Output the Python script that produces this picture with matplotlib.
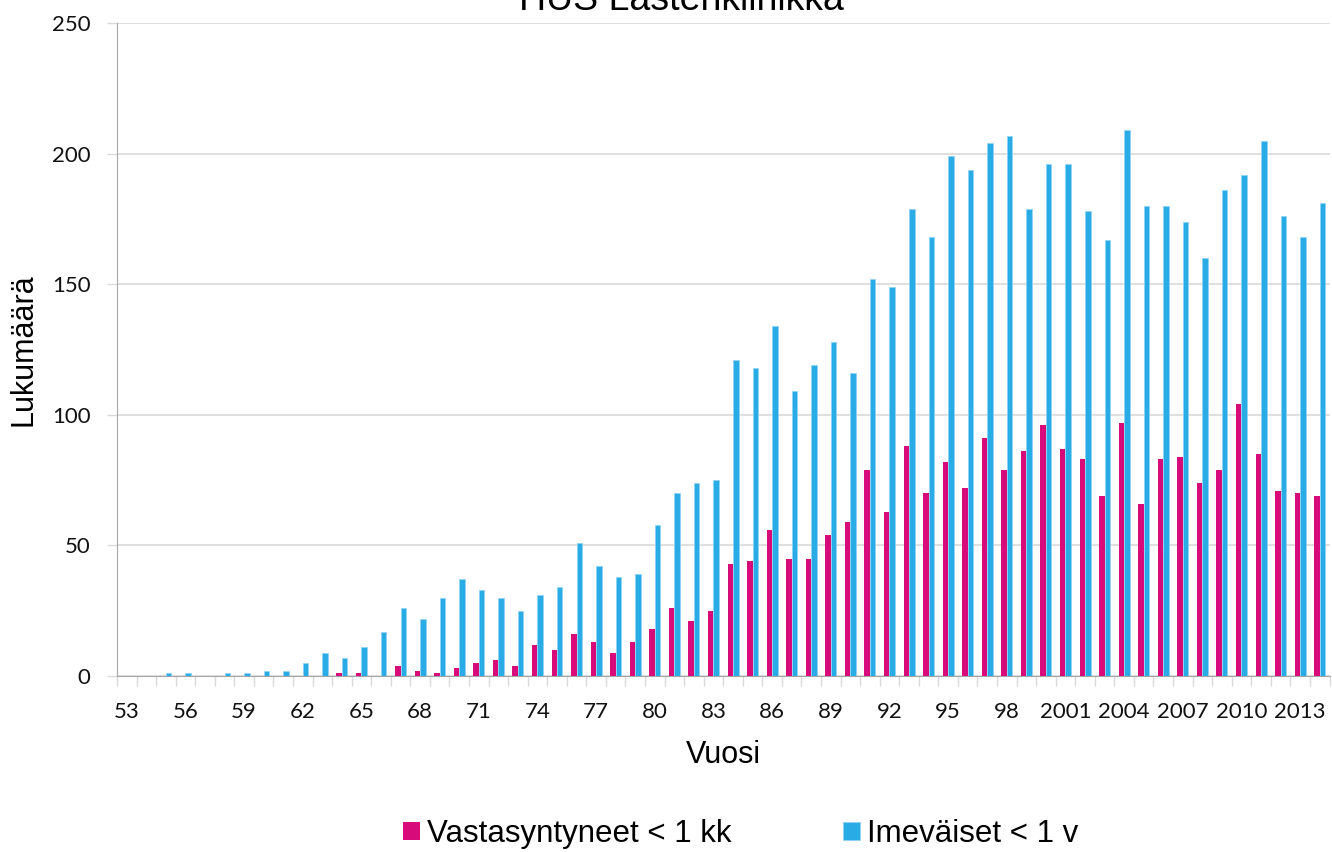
import numpy as np
import matplotlib.pyplot as plt
from matplotlib.ticker import FixedLocator

# Vuodet 1953-2014
years = list(range(1953, 2015))

# Vastasyntyneet < 1 kk
newborn = [0, 0, 0, 0, 0, 0, 0, 0, 0, 0,
           0, 1, 1, 0, 4, 2, 1, 3, 5, 6,
           4, 12, 10, 16, 13, 9, 13, 18, 26, 21,
           25, 43, 44, 56, 45, 45, 54, 59, 79, 63,
           88, 70, 82, 72, 91, 79, 86, 96, 87, 83,
           69, 97, 66, 83, 84, 74, 79, 104, 85, 71,
           70, 69]

# Imeväiset < 1 v
infant = [0, 0, 1, 1, 0, 1, 1, 2, 2, 5,
          9, 7, 11, 17, 26, 22, 30, 37, 33, 30,
          25, 31, 34, 51, 42, 38, 39, 58, 70, 74,
          75, 121, 118, 134, 109, 119, 128, 116, 152, 149,
          179, 168, 199, 194, 204, 207, 179, 196, 196, 178,
          167, 209, 180, 180, 174, 160, 186, 192, 205, 176,
          168, 181]

labels = [str(y)[2:] if y < 2000 else str(y) for y in years]

pink = '#d80b7a'
blue = '#29abe6'
grid_c = '#d9d9d9'
axis_c = '#a6a6a6'

fig = plt.figure(figsize=(13.32, 8.52), dpi=100)
ax = fig.add_axes([117 / 1332, 1 - 676 / 852, (1329.5 - 117) / 1332, (676 - 23.3) / 852])

x = np.arange(len(years))
w = 0.28
ax.bar(x - w / 2, newborn, width=w, color=pink, label='Vastasyntyneet < 1 kk', zorder=3)
ax.bar(x + w / 2, infant, width=w, color=blue, edgecolor='#8fd3f3', linewidth=0.5,
       label='Imeväiset < 1 v', zorder=3)

ax.set_xlim(-0.5, len(years) - 0.5)
ax.set_ylim(0, 250)
ax.set_yticks([0, 50, 100, 150, 200, 250])
ax.yaxis.grid(True, color=grid_c, linewidth=1.2, zorder=0)

# major ticks carry the labels, minor ticks mark category borders
ax.set_xticks(x[::3])
ax.set_xticklabels(labels[::3])
ax.xaxis.set_minor_locator(FixedLocator(np.arange(-0.5, len(years), 1.0)))
ax.tick_params(axis='x', which='major', length=0, pad=19)
ax.tick_params(axis='x', which='minor', length=7, width=1, color=grid_c)
ax.tick_params(axis='y', length=7, width=1, color=grid_c, pad=12)
for lab in ax.get_xticklabels() + ax.get_yticklabels():
    lab.set_fontfamily('Lato')
    lab.set_fontsize(16)
    lab.set_color('#111111')

for s in ['top', 'right']:
    ax.spines[s].set_visible(False)
ax.spines['left'].set_color(axis_c)
ax.spines['bottom'].set_color(axis_c)

ax.set_xlabel('Vuosi', fontfamily='Liberation Sans', fontsize=22, labelpad=13)
ax.set_ylabel('Lukumäärä', fontfamily='Liberation Sans', fontsize=22, labelpad=10)

fig.text(681 / 1332, 1 - 10 / 852, 'HUS Lastenklinikka', ha='center', va='baseline',
         fontfamily='Liberation Sans', fontsize=27)

fig.legend(loc='center left', bbox_to_anchor=(403 / 1332, 1 - 834 / 852), ncol=2,
           frameon=False, borderpad=0, borderaxespad=0,
           handlelength=0.55, handleheight=0.55, handletextpad=0.22, columnspacing=3.55,
           prop={'family': 'Liberation Sans', 'size': 22.5})

fig.savefig('out.png', dpi=100)
